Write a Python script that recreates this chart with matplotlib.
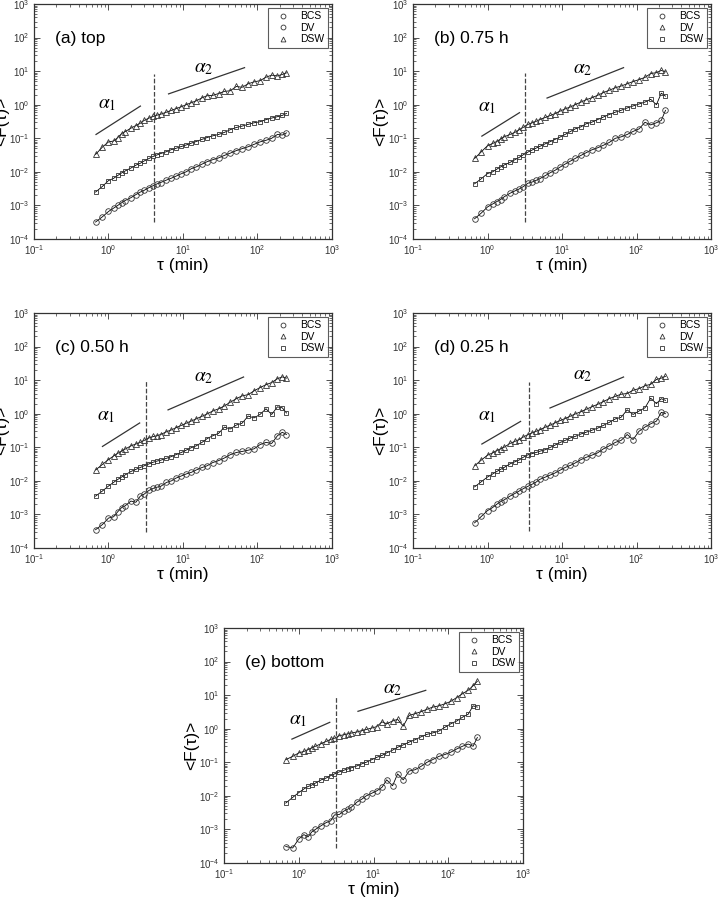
import numpy as np
import matplotlib
matplotlib.use("Agg")
import matplotlib.pyplot as plt
from matplotlib.lines import Line2D
from matplotlib.ticker import LogLocator, NullFormatter

plt.rcParams["font.family"] = ["Liberation Sans", "DejaVu Sans"]
plt.rcParams["mathtext.fontset"] = "stix"

# shared lag times (min)
TAU = [0.67, 0.83, 1.0, 1.17, 1.33, 1.5, 1.67, 2.0, 2.33, 2.67, 3.0, 3.5, 4.0, 4.5,
       5.0, 6.0, 7.0, 8.0, 9.5, 11, 13, 15, 18, 21, 25, 30, 36, 43, 52, 62, 75, 90,
       108, 130, 155, 185, 215, 245]

# (a) top
A_BCS = [0.00032, 0.00046, 0.00066, 0.00083, 0.0010, 0.0012, 0.0014, 0.0017, 0.0021,
         0.0025, 0.0028, 0.0034, 0.0039, 0.0044, 0.0048, 0.0057, 0.0065, 0.0074, 0.0088,
         0.010, 0.0125, 0.014, 0.017, 0.020, 0.023, 0.026, 0.031, 0.036, 0.043, 0.049,
         0.056, 0.066, 0.078, 0.087, 0.10, 0.13, 0.125, 0.145]
A_DSW = [0.0025, 0.0037, 0.0055, 0.0064, 0.0078, 0.0093, 0.0106, 0.013, 0.0158, 0.018,
         0.021, 0.025, 0.029, 0.032, 0.035, 0.040, 0.046, 0.050, 0.057, 0.063, 0.072,
         0.080, 0.093, 0.105, 0.118, 0.13, 0.15, 0.18, 0.21, 0.23, 0.26, 0.29, 0.31,
         0.36, 0.40, 0.44, 0.48, 0.55]
A_DV = [0.033, 0.055, 0.078, 0.083, 0.105, 0.138, 0.158, 0.20, 0.24, 0.28, 0.34, 0.40,
        0.45, 0.49, 0.52, 0.60, 0.68, 0.76, 0.87, 1.0, 1.15, 1.3, 1.6, 1.85, 1.9, 2.15,
        2.5, 2.6, 3.5, 3.3, 4.2, 4.8, 5.2, 6.6, 7.6, 7.2, 8.0, 8.9]

# (b) 0.75 h
B_BCS = [0.00040, 0.00060, 0.00090, 0.0011, 0.0013, 0.0015, 0.0018, 0.0023, 0.0027,
         0.0031, 0.0036, 0.0046, 0.0050, 0.0056, 0.0062, 0.0078, 0.0095, 0.011, 0.014,
         0.017, 0.021, 0.025, 0.031, 0.037, 0.045, 0.052, 0.062, 0.075, 0.10, 0.11,
         0.13, 0.16, 0.19, 0.30, 0.25, 0.29, 0.34, 0.68]
B_DSW = [0.0044, 0.0063, 0.0089, 0.010, 0.012, 0.014, 0.016, 0.019, 0.023, 0.027, 0.032,
         0.039, 0.045, 0.051, 0.057, 0.069, 0.080, 0.092, 0.11, 0.13, 0.16, 0.19, 0.22,
         0.27, 0.30, 0.36, 0.43, 0.51, 0.60, 0.68, 0.80, 0.92, 1.05, 1.2, 1.45, 1.0,
         2.2, 1.8]
B_DV = [0.025, 0.040, 0.060, 0.070, 0.080, 0.095, 0.11, 0.13, 0.15, 0.18, 0.21, 0.26,
        0.29, 0.32, 0.36, 0.42, 0.48, 0.54, 0.65, 0.75, 0.86, 1.0, 1.2, 1.4, 1.6, 1.9,
        2.3, 2.7, 3.2, 3.6, 4.2, 4.9, 5.6, 6.5, 8.5, 9.0, 10.5, 9.5]

# (c) 0.50 h
C_BCS = [0.00035, 0.00050, 0.00078, 0.00085, 0.0012, 0.0016, 0.0018, 0.0025, 0.0023,
         0.0035, 0.0040, 0.0052, 0.0060, 0.0065, 0.0068, 0.0090, 0.010, 0.012, 0.014,
         0.016, 0.018, 0.021, 0.025, 0.028, 0.035, 0.040, 0.048, 0.060, 0.070, 0.075,
         0.082, 0.090, 0.12, 0.14, 0.13, 0.22, 0.28, 0.24]
C_DSW = [0.0035, 0.0050, 0.0070, 0.0090, 0.011, 0.013, 0.015, 0.019, 0.022, 0.025, 0.028,
         0.032, 0.036, 0.039, 0.041, 0.047, 0.053, 0.060, 0.070, 0.082, 0.098, 0.11,
         0.14, 0.18, 0.22, 0.26, 0.40, 0.35, 0.46, 0.52, 0.85, 0.75, 0.95, 1.4, 0.95,
         1.6, 1.5, 1.05]
C_DV = [0.021, 0.031, 0.043, 0.055, 0.066, 0.077, 0.088, 0.11, 0.125, 0.14, 0.16, 0.19,
        0.21, 0.22, 0.24, 0.29, 0.33, 0.38, 0.45, 0.52, 0.61, 0.70, 0.84, 0.98, 1.2, 1.4,
        1.7, 2.2, 2.8, 3.4, 3.7, 4.8, 6.0, 7.3, 8.5, 11.0, 12.5, 11.5]

# (d) 0.25 h
D_BCS = [0.00056, 0.00088, 0.0013, 0.0016, 0.0020, 0.0024, 0.0027, 0.0035, 0.0042,
         0.0050, 0.0058, 0.0069, 0.0080, 0.0092, 0.011, 0.013, 0.015, 0.017, 0.021,
         0.025, 0.029, 0.034, 0.043, 0.050, 0.058, 0.068, 0.090, 0.11, 0.14, 0.16,
         0.24, 0.17, 0.30, 0.40, 0.50, 0.60, 1.1, 1.0]
D_DSW = [0.0066, 0.0095, 0.013, 0.016, 0.019, 0.022, 0.025, 0.032, 0.037, 0.042, 0.050,
         0.060, 0.065, 0.070, 0.076, 0.085, 0.10, 0.115, 0.14, 0.16, 0.19, 0.21, 0.25,
         0.28, 0.32, 0.37, 0.45, 0.55, 0.70, 0.78, 1.3, 0.95, 1.2, 1.5, 2.9, 2.0, 2.8, 2.5]
D_DV = [0.028, 0.042, 0.058, 0.068, 0.080, 0.090, 0.10, 0.13, 0.15, 0.17, 0.20, 0.24,
        0.27, 0.30, 0.33, 0.40, 0.46, 0.53, 0.63, 0.72, 0.85, 0.98, 1.15, 1.35, 1.6, 1.9,
        2.3, 2.8, 3.3, 3.8, 4.0, 5.0, 5.6, 6.8, 7.5, 10.5, 11.5, 13.0]

# (e) bottom
E_BCS = [0.00031, 0.00028, 0.00052, 0.00070, 0.00060, 0.00085, 0.0010, 0.0013, 0.0016,
         0.0018, 0.0027, 0.0028, 0.0035, 0.0040, 0.0045, 0.0065, 0.0080, 0.010, 0.012,
         0.014, 0.018, 0.030, 0.020, 0.045, 0.030, 0.055, 0.060, 0.075, 0.10, 0.12,
         0.15, 0.17, 0.20, 0.25, 0.30, 0.35, 0.30, 0.55]
E_DSW = [0.0061, 0.0090, 0.0125, 0.016, 0.019, 0.021, 0.024, 0.030, 0.034, 0.040, 0.045,
         0.052, 0.058, 0.063, 0.068, 0.078, 0.090, 0.10, 0.12, 0.14, 0.16, 0.19, 0.23,
         0.28, 0.33, 0.40, 0.47, 0.57, 0.68, 0.75, 0.85, 1.1, 1.4, 1.7, 2.2, 2.7, 4.8, 4.4]
E_DV = [0.12, 0.15, 0.19, 0.21, 0.24, 0.27, 0.30, 0.36, 0.42, 0.48, 0.52, 0.62, 0.66,
        0.70, 0.74, 0.80, 0.88, 0.95, 1.05, 1.15, 1.6, 1.4, 1.7, 1.9, 1.2, 2.5, 2.8, 3.2,
        3.8, 4.4, 4.8, 5.5, 6.5, 8.5, 11, 14, 19, 26]

PANEL_LABELS = ["(a) top", "(b) 0.75 h", "(c) 0.50 h", "(d) 0.25 h", "(e) bottom"]
CROSSOVER = [4.05, 3.2, 3.22, 3.56, 3.12]
DASH_Y = [(3.2e-4, 8.0), (3.2e-4, 8.6), (2.9e-4, 9.2), (3.2e-4, 8.6), (2.8e-4, 8.8)]
ALPHA1_LINE = [((0.68, 2.68), (0.13, 0.91)), ((0.84, 2.69), (0.116, 0.58)),
               ((0.83, 2.62), (0.106, 0.53)), ((0.84, 2.78), (0.125, 0.59)),
               ((0.81, 2.6), (0.49, 1.55))]
ALPHA2_LINE = [((6.4, 67), (2.1, 12.7)), ((6.3, 67), (1.58, 12.7)),
               ((6.3, 65), (1.3, 12.4)), ((6.9, 67), (1.48, 12.4)),
               ((6.2, 50), (3.3, 13.9))]
ALPHA1_TXT = [(0.96, 1.0), (1.0, 0.85), (0.94, 0.85), (1.0, 0.85), (0.98, 1.7)]
ALPHA2_TXT = [(19, 12), (19, 11), (19, 12), (19, 13.5), (18, 15)]

series = [(A_BCS, A_DSW, A_DV), (B_BCS, B_DSW, B_DV), (C_BCS, C_DSW, C_DV),
          (D_BCS, D_DSW, D_DV), (E_BCS, E_DSW, E_DV)]

W, H = 726, 906
boxes = [(34, 4, 298, 235), (413, 4, 298, 235), (34, 313, 298, 235),
         (413, 313, 298, 235), (224, 628, 299, 235)]

fig = plt.figure(figsize=(W / 100, H / 100), dpi=100)

for i, (x0, y0, w, h) in enumerate(boxes):
    ax = fig.add_axes([x0 / W, 1 - (y0 + h) / H, w / W, h / H])
    bcs, dsw, dv = series[i]
    style = dict(color="black", lw=0.6, mfc="none", mec="#333333", mew=0.6, ms=4)
    ax.plot(TAU, bcs, marker="o", **style)
    ax.plot(TAU, dsw, marker="s", **dict(style, ms=3.5))
    ax.plot(TAU, dv, marker="^", **style)

    ax.set_xscale("log")
    ax.set_yscale("log")
    ax.set_xlim(0.1, 1000)
    ax.set_ylim(1e-4, 1e3)

    ax.plot([CROSSOVER[i]] * 2, DASH_Y[i], ls="--", color="#444444", lw=0.9)
    ax.plot(*ALPHA1_LINE[i], color="#333333", lw=0.9)
    ax.plot(*ALPHA2_LINE[i], color="#333333", lw=0.9)
    ax.text(*ALPHA1_TXT[i], r"$\alpha_1$", fontsize=14, ha="center", va="center")
    ax.text(*ALPHA2_TXT[i], r"$\alpha_2$", fontsize=14, ha="center", va="center")

    ax.text(0.07, 0.855, PANEL_LABELS[i], transform=ax.transAxes, fontsize=12.5,
            ha="left", va="center")

    ax.set_xlabel(r"τ (min)", fontsize=12.5, labelpad=1)
    ax.set_ylabel(r"<F(τ)>", fontsize=12.5, labelpad=0)

    ax.xaxis.set_major_locator(LogLocator(base=10, numticks=10))
    ax.yaxis.set_major_locator(LogLocator(base=10, numticks=10))
    ax.xaxis.set_minor_locator(LogLocator(base=10, subs=np.arange(2, 10), numticks=20))
    ax.yaxis.set_minor_locator(LogLocator(base=10, subs=np.arange(2, 10), numticks=20))
    ax.xaxis.set_minor_formatter(NullFormatter())
    ax.yaxis.set_minor_formatter(NullFormatter())
    ax.tick_params(which="both", direction="in", top=True, right=True,
                   labelsize=7, colors="#333333", pad=3)
    ax.tick_params(which="major", length=4, width=0.6)
    ax.tick_params(which="minor", length=2, width=0.5)
    for sp in ax.spines.values():
        sp.set_linewidth(0.9)
        sp.set_color("#333333")

    if i == 0:
        mk = ["o", "o", "^"]
    else:
        mk = ["o", "^", "s"]
    handles = [Line2D([], [], ls="none", marker=m, mfc="none", mec="#333333",
                      mew=0.6, ms=3.5) for m in mk]
    leg = ax.legend(handles, ["BCS", "DV", "DSW"], loc="upper right", fontsize=7.5,
                    frameon=True, fancybox=False, edgecolor="#333333",
                    borderaxespad=0.4, handlelength=2.2, borderpad=0.3,
                    labelspacing=0.15, handletextpad=0.6)
    leg.get_frame().set_linewidth(0.8)

fig.savefig("out.png", dpi=100)
